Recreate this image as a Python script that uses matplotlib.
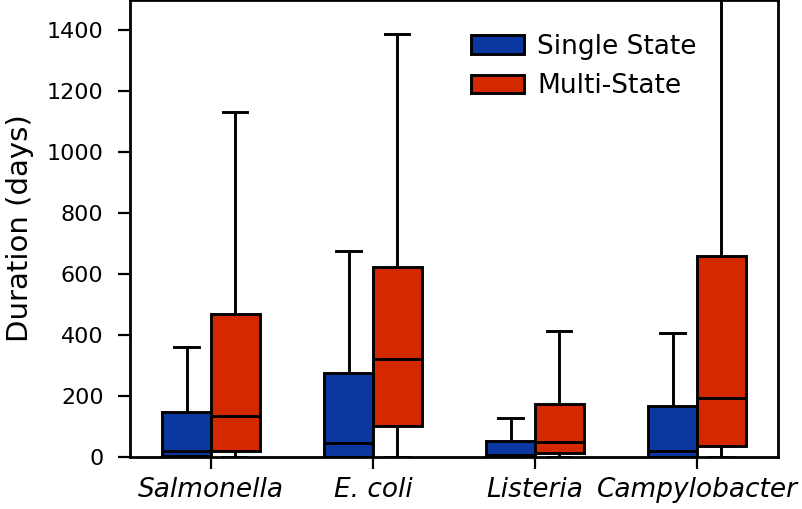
import numpy as np
import matplotlib
matplotlib.use("Agg")
import matplotlib.pyplot as plt
from matplotlib.patches import Patch

# categories and box statistics (days)
pathogens = ["Salmonella", "E. coli", "Listeria", "Campylobacter"]
series = ["Single State", "Multi-State"]
colors = ["#0a37a0", "#d42800"]

single_whislo = [0, 0, 0, 0]
single_q1 = [5, 0, 0, 0]
single_med = [21, 45, 6, 19]
single_q3 = [148, 276, 54, 169]
single_whishi = [361, 677, 127, 408]

multi_whislo = [0, 0, 0, 0]
multi_q1 = [21, 101, 15, 37]
multi_med = [136, 322, 48, 193]
multi_q3 = [471, 624, 174, 661]
multi_whishi = [1131, 1390, 413, 1700]

lw = 2.1

def make_stats(whislo, q1, med, q3, whishi):
    stats = []
    for i in range(len(med)):
        stats.append({"whislo": whislo[i], "q1": q1[i], "med": med[i],
                      "q3": q3[i], "whishi": whishi[i], "fliers": []})
    return stats

fig = plt.figure(figsize=(8.02, 5.09), dpi=100)
ax = fig.add_axes([0.162, 0.102, 0.808, 0.898])

x = np.arange(len(pathogens))
all_stats = [make_stats(single_whislo, single_q1, single_med, single_q3, single_whishi),
             make_stats(multi_whislo, multi_q1, multi_med, multi_q3, multi_whishi)]
offsets = [-0.15, 0.15]

for stats, off, col in zip(all_stats, offsets, colors):
    ax.bxp(stats, positions=x + off, widths=0.3, patch_artist=True,
           showfliers=False,
           boxprops=dict(facecolor=col, edgecolor="black", linewidth=lw),
           medianprops=dict(color="black", linewidth=lw),
           whiskerprops=dict(color="black", linewidth=lw),
           capprops=dict(color="black", linewidth=lw))

ax.set_xlim(-0.5, 3.5)
ax.set_ylim(0, 1500)
ax.set_xticks(x)
ax.set_xticklabels(pathogens, fontsize=19, style="italic")
ax.set_yticks(np.arange(0, 1401, 200))
ax.tick_params(axis="y", labelsize=16, length=8.5, width=1.6, pad=10.5)
ax.tick_params(axis="x", length=8.5, width=1.6, pad=6)
ax.set_ylabel("Duration (days)", fontsize=21, labelpad=9)
for s in ax.spines.values():
    s.set_linewidth(2.0)

handles = [Patch(facecolor=c, edgecolor="black", linewidth=lw) for c in colors]
ax.legend(handles, series, loc="upper left", bbox_to_anchor=(0.49, 0.978),
          frameon=False, fontsize=19, handletextpad=0.5)

fig.savefig("out.png", dpi=100)
